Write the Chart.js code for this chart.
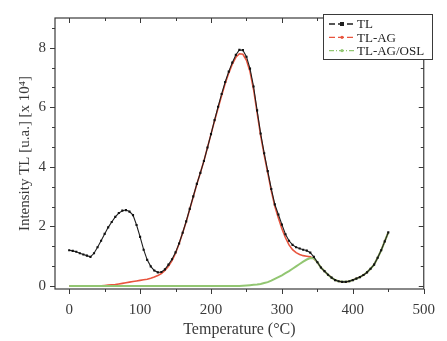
<!DOCTYPE html>
<html lang="en">
<head>
    <meta charset="UTF-8">
    <title>TL glow curves</title>
    <script src="https://cdn.jsdelivr.net/npm/chart.js"></script>
    <style>
        body { margin: 0; background: #fff; }
        #wrap { width: 447px; height: 341px; }
    </style>
</head>
<body>
    <div id="wrap"><canvas id="tl-chart" width="447" height="341"></canvas></div>

    <script>
        // temperature (°C)
        const temps = [0, 5, 10, 15, 20, 25, 30, 35, 40, 45, 50, 55, 60, 65, 70, 75, 80, 85, 90, 95,
            100, 105, 110, 115, 120, 125, 130, 135, 140, 145, 150, 155, 160, 165, 170, 175, 180, 185, 190, 195,
            200, 205, 210, 215, 220, 225, 230, 235, 240, 245, 250, 255, 260, 265, 270, 275, 280, 285, 290, 295,
            300, 305, 310, 315, 320, 325, 330, 335, 340, 345, 350, 355, 360, 365, 370, 375, 380, 385, 390, 395,
            400, 405, 410, 415, 420, 425, 430, 435, 440, 445, 450];

        // intensity [x 10^4]
        const tl = [1.20, 1.18, 1.15, 1.10, 1.06, 1.02, 0.98, 1.10, 1.30, 1.52, 1.75, 1.97, 2.15, 2.32, 2.45, 2.53, 2.55, 2.50, 2.38, 2.05,
            1.65, 1.22, 0.88, 0.66, 0.52, 0.46, 0.47, 0.56, 0.72, 0.90, 1.13, 1.43, 1.79, 2.17, 2.59, 3.01, 3.43, 3.80, 4.20, 4.65,
            5.10, 5.57, 6.02, 6.45, 6.85, 7.20, 7.50, 7.76, 7.93, 7.92, 7.70, 7.30, 6.70, 5.90, 5.12, 4.46, 3.86, 3.26, 2.74, 2.40,
            2.06, 1.74, 1.52, 1.38, 1.30, 1.26, 1.22, 1.19, 1.12, 0.98, 0.80, 0.62, 0.50, 0.38, 0.28, 0.20, 0.16, 0.14, 0.14, 0.16,
            0.20, 0.25, 0.30, 0.37, 0.46, 0.58, 0.72, 0.95, 1.20, 1.50, 1.80];

        const tlAg = [0, 0, 0, 0, 0, 0, 0, 0.01, 0.01, 0.01, 0.02, 0.03, 0.04, 0.05, 0.07, 0.09, 0.11, 0.13, 0.15, 0.17,
            0.19, 0.21, 0.23, 0.26, 0.30, 0.35, 0.42, 0.52, 0.66, 0.85, 1.10, 1.42, 1.78, 2.16, 2.58, 3.00, 3.42, 3.80, 4.20, 4.65,
            5.10, 5.55, 5.98, 6.40, 6.80, 7.15, 7.45, 7.68, 7.80, 7.78, 7.58, 7.20, 6.60, 5.82, 5.05, 4.40, 3.80, 3.20, 2.68, 2.28,
            1.92, 1.62, 1.38, 1.22, 1.12, 1.06, 1.02, 1.00, 0.98, 0.92, 0.80, 0.62, 0.50, 0.38, 0.28, 0.20, 0.16, 0.14, 0.14, 0.16,
            0.20, 0.25, 0.30, 0.37, 0.46, 0.58, 0.72, 0.95, 1.20, 1.50, 1.80];

        const tlAgOsl = [0, 0, 0, 0, 0, 0, 0, 0, 0, 0, 0, 0, 0, 0, 0, 0, 0, 0, 0, 0,
            0, 0, 0, 0, 0, 0, 0, 0, 0, 0, 0, 0, 0, 0, 0, 0, 0, 0, 0, 0,
            0, 0, 0, 0, 0, 0, 0, 0, 0, 0.01, 0.02, 0.03, 0.04, 0.05, 0.07, 0.10, 0.13, 0.18, 0.24, 0.30,
            0.36, 0.43, 0.50, 0.58, 0.66, 0.74, 0.82, 0.89, 0.94, 0.93, 0.80, 0.62, 0.50, 0.38, 0.28, 0.20, 0.16, 0.14, 0.14, 0.16,
            0.20, 0.25, 0.30, 0.37, 0.46, 0.58, 0.72, 0.95, 1.20, 1.50, 1.80];

        const xTicks = [0, 100, 200, 300, 400, 500];
        const yTicks = [0, 2, 4, 6, 8];
        const seriesNames = ['TL', 'TL-AG', 'TL-AG/OSL'];

        const serif = 'Liberation Serif, Times New Roman, serif';
        const ink = '#3a3a3a';

        function pts(ys) {
            return temps.map((t, i) => ({ x: t, y: ys[i] }));
        }

        // frame with inner/outer ticks, like the original plot
        const framePlugin = {
            id: 'frame',
            afterDatasetsDraw(chart) {
                const { ctx, chartArea: a, scales: { x, y } } = chart;
                ctx.save();
                ctx.strokeStyle = ink;
                ctx.lineWidth = 1.2;
                ctx.strokeRect(a.left, a.top, a.right - a.left, a.bottom - a.top);
                ctx.lineWidth = 1;
                ctx.beginPath();
                for (let v = 0; v <= 500; v += 50) {
                    const px = Math.round(x.getPixelForValue(v)) + 0.5;
                    const len = v % 100 === 0 ? 5 : 3;
                    ctx.moveTo(px, a.bottom); ctx.lineTo(px, a.bottom + len);
                    ctx.moveTo(px, a.top); ctx.lineTo(px, a.top + len);
                }
                for (let k = 0; k <= 13; k++) {
                    const v = k * 2 / 3;
                    const py = Math.round(y.getPixelForValue(v)) + 0.5;
                    const len = k % 3 === 0 ? 5 : 3;
                    ctx.moveTo(a.left, py); ctx.lineTo(a.left - len, py);
                    ctx.moveTo(a.right, py); ctx.lineTo(a.right - len, py);
                }
                ctx.stroke();
                ctx.restore();
            }
        };

        const legendPlugin = {
            id: 'boxLegend',
            afterDraw(chart) {
                const ctx = chart.ctx;
                const bx = 323, by = 14, bw = 109, bh = 45;
                ctx.save();
                ctx.fillStyle = '#fff';
                ctx.fillRect(bx, by, bw, bh);
                ctx.strokeStyle = ink;
                ctx.lineWidth = 1;
                ctx.strokeRect(bx + 0.5, by + 0.5, bw, bh);
                ctx.font = '13px ' + serif;
                ctx.textBaseline = 'middle';
                chart.data.datasets.forEach((ds, i) => {
                    const ly = by + 10 + i * 13.3;
                    ctx.strokeStyle = ds.borderColor;
                    ctx.lineWidth = 1.3;
                    ctx.setLineDash(i === 2 ? [5, 2, 1, 2] : [6, 3]);
                    ctx.beginPath();
                    ctx.moveTo(bx + 6, ly); ctx.lineTo(bx + 32, ly);
                    ctx.stroke();
                    ctx.setLineDash([]);
                    ctx.fillStyle = ds.borderColor;
                    if (i === 0) ctx.fillRect(bx + 17, ly - 2, 4, 4);
                    else {
                        ctx.beginPath();
                        ctx.arc(bx + 19, ly, 1.6, 0, Math.PI * 2);
                        ctx.fill();
                    }
                    ctx.fillStyle = '#222';
                    ctx.fillText(ds.label, bx + 34, ly + 1);
                });
                ctx.restore();
            }
        };

        new Chart(document.getElementById('tl-chart'), {
            type: 'line',
            data: {
                datasets: [
                    {
                        label: seriesNames[0],
                        data: pts(tl),
                        borderColor: '#1e1e1e',
                        backgroundColor: '#111',
                        borderWidth: 1.1,
                        pointStyle: 'rect',
                        pointRadius: 1.5,
                        pointBorderWidth: 0,
                        order: 0
                    },
                    {
                        label: seriesNames[1],
                        data: pts(tlAg),
                        borderColor: 'rgb(232, 84, 62)',
                        borderWidth: 1.6,
                        pointRadius: 0,
                        order: 2
                    },
                    {
                        label: seriesNames[2],
                        data: pts(tlAgOsl),
                        borderColor: 'rgb(146, 198, 114)',
                        borderWidth: 2,
                        pointRadius: 0,
                        order: 1
                    }
                ]
            },
            options: {
                responsive: false,
                animation: false,
                layout: { padding: { top: 6, right: 14, left: 0, bottom: 0 } },
                plugins: { legend: { display: false }, tooltip: { enabled: false } },
                scales: {
                    x: {
                        type: 'linear',
                        min: -20,
                        max: 500,
                        afterBuildTicks: s => { s.ticks = xTicks.map(v => ({ value: v })); },
                        afterFit: s => { s.height = 52; },
                        grid: { display: false, drawTicks: false },
                        border: { display: false },
                        ticks: { color: ink, padding: 12, maxRotation: 0, font: { family: serif, size: 15 } },
                        title: {
                            display: true,
                            text: 'Temperature (°C)',
                            color: ink,
                            padding: { top: 0, bottom: 2 },
                            font: { family: serif, size: 16 }
                        }
                    },
                    y: {
                        min: -0.1,
                        max: 9,
                        afterBuildTicks: s => { s.ticks = yTicks.map(v => ({ value: v })); },
                        afterFit: s => { s.width = 55; },
                        grid: { display: false, drawTicks: false },
                        border: { display: false },
                        ticks: { color: ink, padding: 9, font: { family: serif, size: 15 } },
                        title: {
                            display: true,
                            text: 'Intensity TL [u.a.] [x 10⁴]',
                            color: ink,
                            padding: { top: 16, bottom: 0 },
                            font: { family: serif, size: 15 }
                        }
                    }
                }
            },
            plugins: [framePlugin, legendPlugin]
        });
    </script>
</body>
</html>
